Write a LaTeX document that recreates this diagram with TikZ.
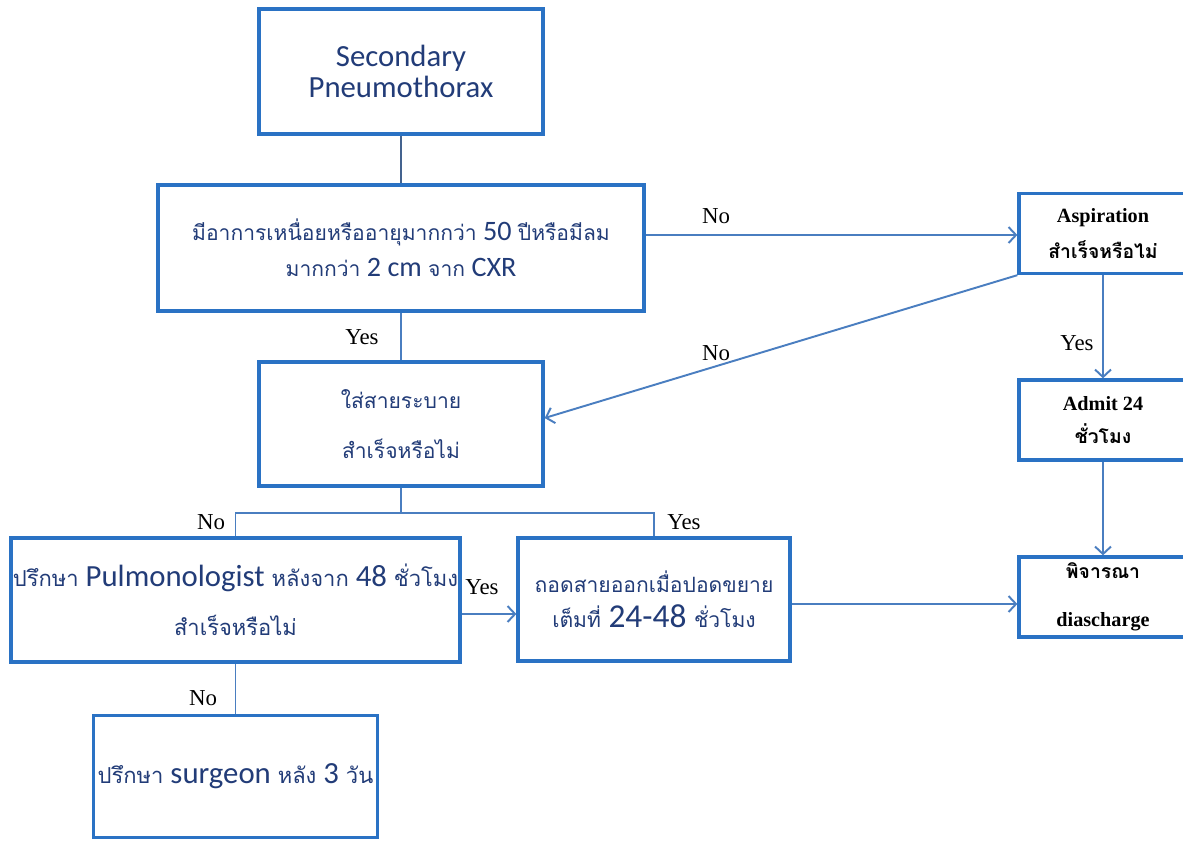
\documentclass[tikz,border=0pt]{standalone}
\usepackage{fontspec}
\setmainfont{Carlito}
\newfontfamily\thai[Script=Thai]{Loma}
\newfontfamily\tms{Liberation Serif}
\usetikzlibrary{arrows.meta}
\definecolor{boxblue}{HTML}{2A72C4}
\definecolor{lineblue}{HTML}{4A7EC0}
\definecolor{darkline}{HTML}{44638F}
\definecolor{txtblue}{HTML}{223C78}
\begin{document}
\begin{tikzpicture}[
                x=0.02cm, y=-0.02cm,
                box/.style={draw=boxblue, line width=1.9pt, fill=white, align=center, text=txtblue, inner sep=0pt},
                sidebox/.style={box, text=black, minimum width=3.36cm, minimum height=1.6cm},
                link/.style={draw=lineblue, line width=1.1pt},
                arr/.style={link, -{Straight Barb[length=1.5mm, width=3.2mm]}},
                lbl/.style={font=\tms\fontsize{13}{13}\selectfont, inner sep=0pt}
            ]
                \useasboundingbox (0,0) rectangle (1183,840);

                % main column
                \node[box, minimum width=5.68cm, minimum height=2.5cm,
                      font=\fontsize{17.5}{17.6}\selectfont] (start) at (401,71.5)
                      {Secondary\\Pneumothorax};
                \node[box, minimum width=9.72cm, minimum height=2.52cm,
                      font=\fontsize{16}{20.4}\selectfont] (check) at (401,248)
                      {{\thai\fontsize{12}{12}\selectfont มีอาการเหนื่อยหรืออายุมากกว่า} 50 {\thai\fontsize{12}{12}\selectfont ปีหรือมีลม}\\
                       {\thai\fontsize{12}{12}\selectfont มากกว่า} 2 cm {\thai\fontsize{12}{12}\selectfont จาก} CXR};
                \node[box, minimum width=5.68cm, minimum height=2.48cm,
                      font=\thai\fontsize{12}{28}\selectfont] (drain) at (401,424)
                      {ใส่สายระบาย\\สำเร็จหรือไม่};
                \node[box, minimum width=8.98cm, minimum height=2.48cm,
                      font=\fontsize{17.5}{28}\selectfont] (pulmo) at (235.5,600)
                      {{\thai\fontsize{12.5}{12}\selectfont ปรึกษา} Pulmonologist {\thai\fontsize{12.5}{12}\selectfont หลังจาก} 48 {\thai\fontsize{12.5}{12}\selectfont ชั่วโมง}\\
                       {\thai\fontsize{12.5}{12}\selectfont สำเร็จหรือไม่}};
                \node[box, minimum width=5.44cm, minimum height=2.46cm,
                      font=\fontsize{19}{20}\selectfont] (remove) at (654,599.5)
                      {{\thai\fontsize{12}{12}\selectfont ถอดสายออกเมื่อปอดขยาย}\\
                       {\thai\fontsize{12}{12}\selectfont เต็มที่} 24-48 {\thai\fontsize{12}{12}\selectfont ชั่วโมง}};
                \node[box, minimum width=5.68cm, minimum height=2.44cm,
                      font=\fontsize{17.5}{18}\selectfont] (surg) at (235.5,776.5)
                      {{\thai\fontsize{12.5}{12}\selectfont ปรึกษา} surgeon {\thai\fontsize{12.5}{12}\selectfont หลัง} 3 {\thai\fontsize{12.5}{12}\selectfont วัน}};

                % right column
                \node[sidebox, font=\tms\bfseries\fontsize{11.5}{20}\selectfont] (asp) at (1103,233.5)
                      {Aspiration\\{\thai\fontsize{11}{11}\selectfont สำเร็จหรือไม่}};
                \node[sidebox, font=\tms\bfseries\fontsize{11.5}{19}\selectfont] (admit) at (1103,420)
                      {Admit 24\\{\thai\fontsize{11}{11}\selectfont ชั่วโมง}};
                \node[sidebox, font=\tms\bfseries\fontsize{11.5}{27}\selectfont] (disc) at (1103,597)
                      {{\thai\fontsize{11}{11}\selectfont พิจารณา}\\diascharge};

                % connectors
                \draw[link, draw=darkline] (start) -- (check);
                \draw[link] (check) -- (drain);
                \draw[arr] ([yshift=0.26cm]check.east) -- ([yshift=0.26cm]check.east -| asp.west);
                \draw[arr] (asp.south west) -- ([yshift=0.12cm]drain.east);
                \coordinate (fork) at (401,513);
                \draw[link] (drain) -- (fork);
                \draw[link] (pulmo.north) |- (fork) -| (remove.north);
                \draw[arr] ([yshift=-0.28cm]pulmo.east) -- ([yshift=-0.28cm]pulmo.east -| remove.west);
                \draw[link] (pulmo) -- (surg);
                \draw[arr] (asp) -- (admit);
                \draw[arr] (admit) -- (disc);
                \draw[arr] ([yshift=-0.14cm]disc.west -| remove.east) -- ([yshift=-0.14cm]disc.west);

                % labels
                \node[lbl] (yes1) at (362,337) {Yes};
                \node[lbl] (no1) at (716,216) {No};
                \node[lbl] (no2) at (716,353) {No};
                \node[lbl] (no3) at (211,522) {No};
                \node[lbl] (yes2) at (684,522) {Yes};
                \node[lbl] (yes3) at (482,587) {Yes};
                \node[lbl] (no4) at (203,698) {No};
                \node[lbl] (yes4) at (1077,343) {Yes};
            \end{tikzpicture}
\end{document}
